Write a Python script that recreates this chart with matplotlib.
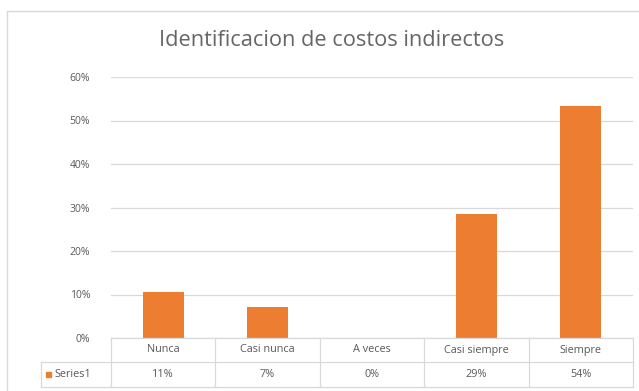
import matplotlib.pyplot as plt
from matplotlib.patches import Rectangle

# Data
categories = ["Nunca", "Casi nunca", "A veces", "Casi siempre", "Siempre"]
values = [0.106, 0.071, 0.0, 0.285, 0.533]
value_labels = ["11%", "7%", "0%", "29%", "54%"]
series_name = "Series1"
yticks = [0, 0.1, 0.2, 0.3, 0.4, 0.5, 0.6]

orange = "#ED7D31"
text_grey = "#595959"
grid_grey = "#D9D9D9"

plt.rcParams["font.family"] = ["Open Sans", "DejaVu Sans"]

W, H = 639, 391
fig = plt.figure(figsize=(W / 100, H / 100), dpi=100)

# chart frame
fig.patches.append(Rectangle((7 / W, -0.05), 1.0, (H - 11) / H + 0.05,
                             transform=fig.transFigure, fill=False,
                             edgecolor="#D9D9D9", linewidth=1))

x0, x1 = 111, 633
y_top, y_bot = 77, 338
ax = fig.add_axes([x0 / W, 1 - y_bot / H, (x1 - x0) / W, (y_bot - y_top) / H])

x = range(len(categories))
ax.bar(x, values, width=0.39, color=orange, zorder=3)
ax.set_xlim(-0.5, len(categories) - 0.5)
ax.set_ylim(0, 0.6)
ax.set_yticks(yticks)
ax.set_yticklabels([f"{int(round(t * 100))}%" for t in yticks])
ax.tick_params(axis="y", length=0, labelsize=7.5, labelcolor=text_grey, pad=15)
ax.set_xticks([])
ax.grid(axis="y", color=grid_grey, linewidth=0.9, zorder=0)
for s in ax.spines.values():
    s.set_visible(False)

fig.text(332 / W, 1 - 41 / H, "Identificacion de costos indirectos",
         ha="center", va="center", fontsize=15.7, color="#666666")

# data table below the plot
col_edges = [x0 + i * (x1 - x0) / len(categories) for i in range(len(categories) + 1)]
row1_bot, row2_bot = 362, 387
left_cell = 41

def fx(px):
    return px / W

def fy(py):
    return 1 - py / H

lines = []
# horizontal lines
lines.append(((x0, y_bot), (x1, y_bot)))
lines.append(((left_cell, row1_bot), (x1, row1_bot)))
lines.append(((left_cell, row2_bot), (x1, row2_bot)))
# vertical lines
for cx in col_edges:
    lines.append(((cx, y_bot), (cx, row2_bot)))
lines.append(((left_cell, row1_bot), (left_cell, row2_bot)))
for (ax_, ay), (bx, by) in lines:
    fig.add_artist(plt.Line2D([fx(ax_), fx(bx)], [fy(ay), fy(by)],
                              transform=fig.transFigure, color=grid_grey, linewidth=0.9))

for i, (cat, lab) in enumerate(zip(categories, value_labels)):
    cx = (col_edges[i] + col_edges[i + 1]) / 2
    fig.text(fx(cx), fy((y_bot + row1_bot) / 2), cat, ha="center", va="center",
             fontsize=7.8, color=text_grey)
    fig.text(fx(cx), fy((row1_bot + row2_bot) / 2), lab, ha="center", va="center",
             fontsize=7.8, color=text_grey)

# legend key in table
fig.patches.append(Rectangle((fx(46), fy(377)), 5 / W, 5 / H,
                             transform=fig.transFigure, color=orange))
fig.text(fx(54), fy((row1_bot + row2_bot) / 2), series_name, ha="left", va="center",
         fontsize=7.8, color=text_grey)

fig.savefig("out.png", dpi=100)
